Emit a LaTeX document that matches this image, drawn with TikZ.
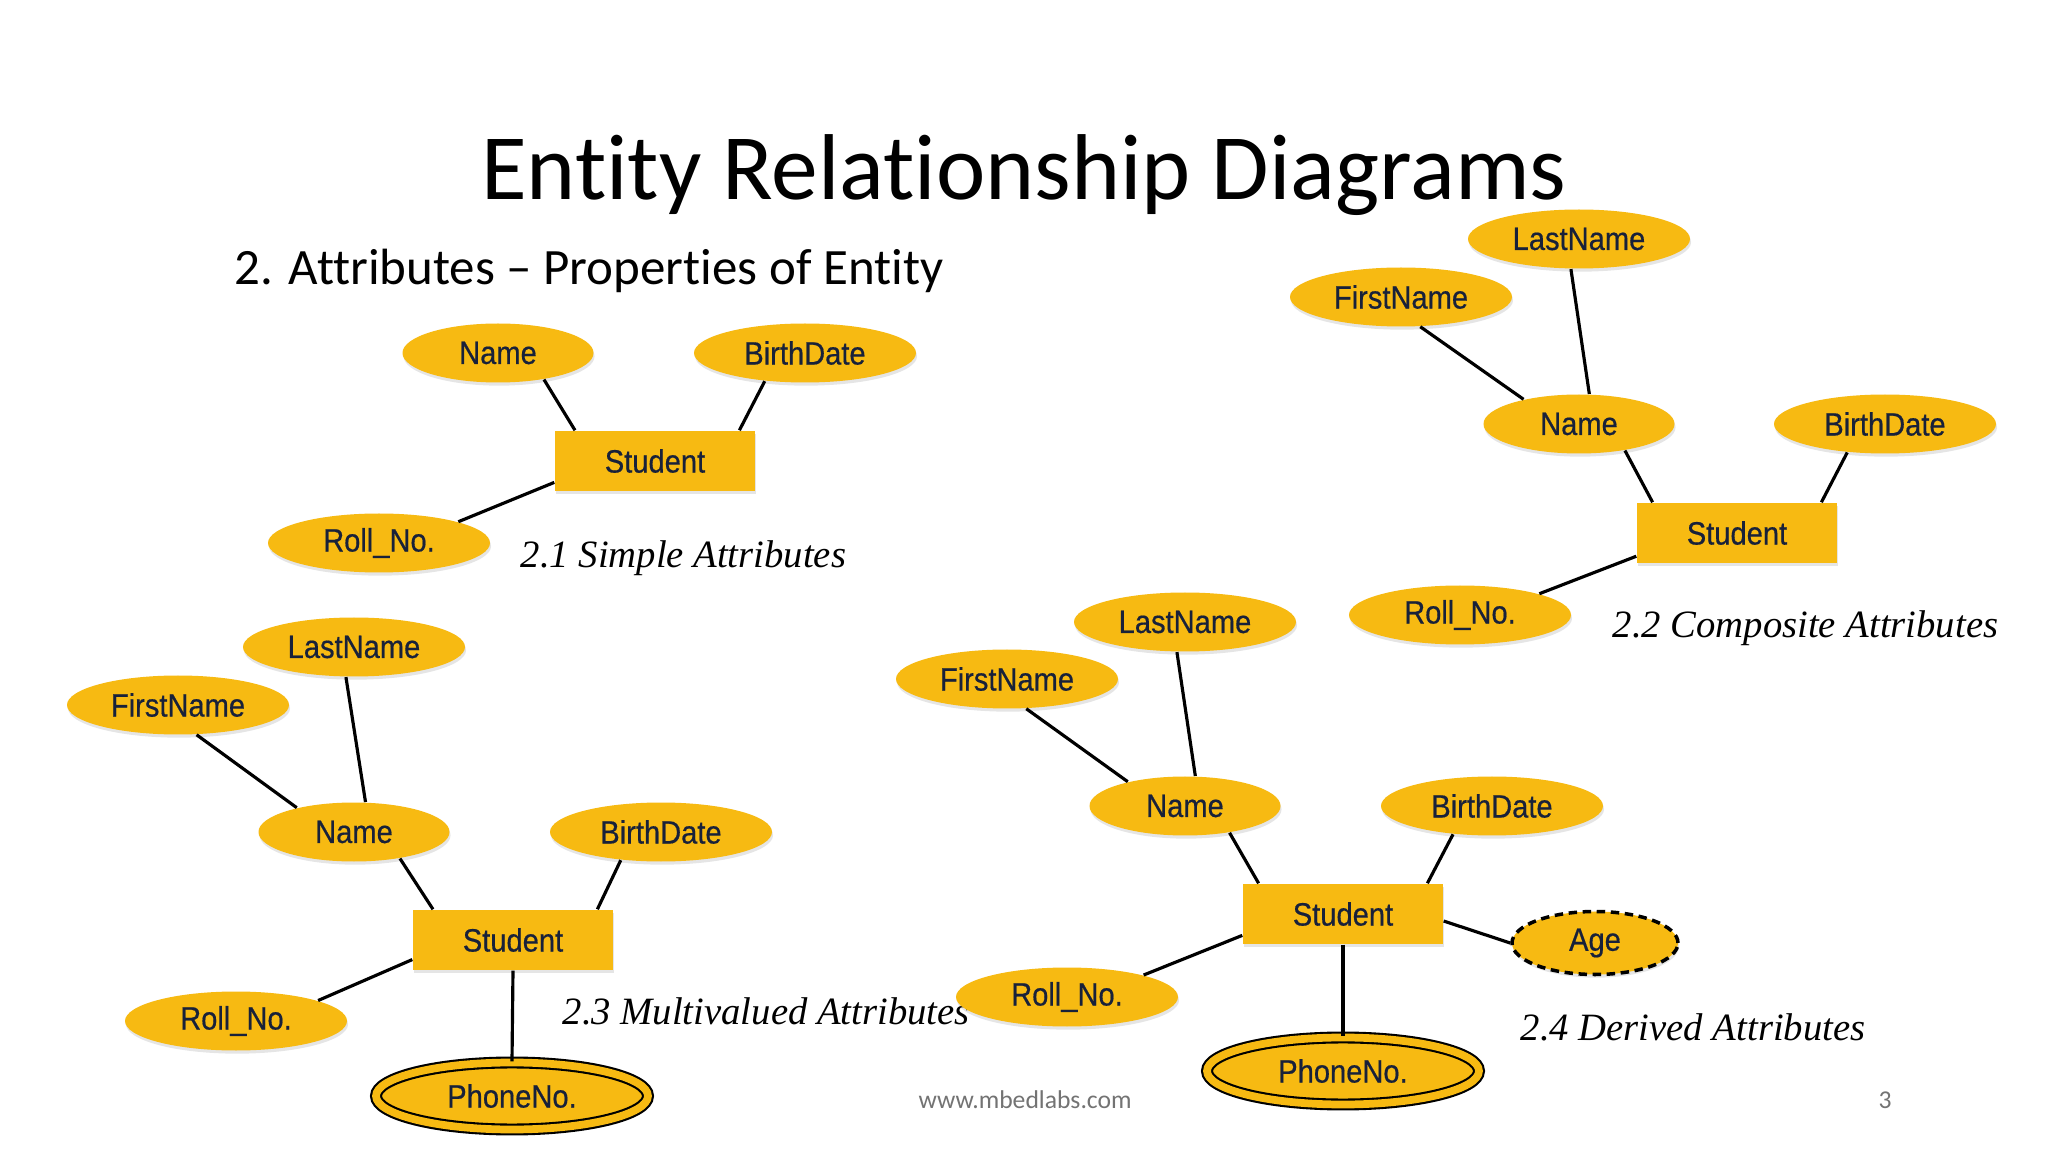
\documentclass[tikz,border=0pt]{standalone}
\usepackage{fontspec}
\setmainfont{Liberation Sans}
\newfontfamily\labelfont[FakeStretch=0.9, FakeBold=0.5]{Liberation Sans}
\newfontfamily\titlefont[Ligatures=NoCommon]{Carlito}
\newfontfamily\capfont{Liberation Serif}
\usetikzlibrary{shapes.geometric, shadows}
\definecolor{ErGold}{HTML}{F7BA12}
\definecolor{ErInk}{HTML}{18213A}

\begin{document}
\begin{tikzpicture}[
    every node/.style={font=\labelfont\fontsize{9.2}{11}\selectfont, text=ErInk},
    attr/.style={ellipse, fill=ErGold, inner sep=0pt, minimum width=2.22cm, minimum height=0.59cm, drop shadow={opacity=0.2, shadow xshift=0.3pt, shadow yshift=-0.9pt}},
    short/.style={attr, minimum width=1.91cm},
    entity/.style={rectangle, fill=ErGold, inner sep=0pt, minimum width=2cm, minimum height=0.6cm, drop shadow={opacity=0.2, shadow xshift=0.3pt, shadow yshift=-0.9pt}},
    multi/.style={attr, draw=black, line width=0.6pt, double=ErGold, double distance=2.2pt, minimum width=2.72cm, minimum height=0.67cm},
    derived/.style={attr, draw=black, line width=1pt, dash pattern=on 2.4pt off 1.6pt, minimum width=1.66cm, minimum height=0.63cm},
    link/.style={draw=black, line width=0.9pt},
    caption/.style={anchor=west, inner sep=0pt, font=\capfont\itshape\fontsize{11}{13}\selectfont, text=black}
  ]
    \useasboundingbox[fill=white] (0,0) rectangle (20.48,-11.52);

    \node[anchor=base, inner sep=0pt, text=black, font=\titlefont\fontsize{26.6}{32}\selectfont] (title) at (10.24,-2.00) {Entity Relationship Diagrams};
    \node[anchor=base west, inner sep=0pt, text=black, font=\titlefont\fontsize{14.5}{17}\selectfont] (subtitle) at (2.34,-2.85) {2. Attributes – Properties of Entity};

    \node[short] (name1) at (4.98,-3.53) {Name};
    \node[attr] (birth1) at (8.05,-3.53) {BirthDate};
    \node[entity] (stu1) at (6.55,-4.61) {Student};
    \node[attr] (roll1) at (3.79,-5.43) {Roll\_No.};
    \node[caption] (cap1) at (5.20,-5.58) {2.1 Simple Attributes};
    \draw[link] (name1.-30) -- (stu1.159);
    \draw[link] (birth1.-145) -- (stu1.20);
    \draw[link] (roll1.15) -- (stu1.-168);

    \node[attr] (last2) at (15.79,-2.39) {LastName};
    \node[attr] (first2) at (14.01,-2.97) {FirstName};
    \node[short] (name2) at (15.79,-4.24) {Name};
    \node[attr] (birth2) at (18.85,-4.24) {BirthDate};
    \node[entity] (stu2) at (17.37,-5.33) {Student};
    \node[attr] (roll2) at (14.60,-6.15) {Roll\_No.};
    \node[caption] (cap2) at (16.12,-6.28) {2.2 Composite Attributes};
    \draw[link] (last2.-105) -- (name2.71);
    \draw[link] (first2.-57) -- (name2.156);
    \draw[link] (name2.-30) -- (stu2.160);
    \draw[link] (birth2.-143) -- (stu2.20);
    \draw[link] (roll2.15) -- (stu2.-167);

    \node[attr] (last3) at (3.54,-6.47) {LastName};
    \node[attr] (first3) at (1.78,-7.05) {FirstName};
    \node[short] (name3) at (3.54,-8.32) {Name};
    \node[attr] (birth3) at (6.61,-8.32) {BirthDate};
    \node[entity] (stu3) at (5.13,-9.40) {Student};
    \node[attr] (roll3) at (2.36,-10.21) {Roll\_No.};
    \node[multi] (phone3) at (5.12,-10.96) {PhoneNo.};
    \node[caption] (cap3) at (5.62,-10.11) {2.3 Multivalued Attributes};
    \draw[link] (last3.-105) -- (name3.69);
    \draw[link] (first3.-58) -- (name3.157);
    \draw[link] (name3.-30) -- (stu3.159);
    \draw[link] (birth3.-145) -- (stu3.20);
    \draw[link] (roll3.14) -- (stu3.-169);
    \draw[link] (stu3.south) -- (phone3.north);

    \node[attr] (last4) at (11.85,-6.22) {LastName};
    \node[attr] (first4) at (10.07,-6.79) {FirstName};
    \node[short] (name4) at (11.85,-8.06) {Name};
    \node[attr] (birth4) at (14.92,-8.06) {BirthDate};
    \node[entity] (stu4) at (13.43,-9.14) {Student};
    \node[attr] (roll4) at (10.67,-9.97) {Roll\_No.};
    \node[derived] (age4) at (15.95,-9.43) {Age};
    \node[multi] (phone4) at (13.43,-10.71) {PhoneNo.};
    \node[caption] (cap4) at (15.20,-10.27) {2.4 Derived Attributes};
    \draw[link] (last4.-105) -- (name4.71);
    \draw[link] (first4.-57) -- (name4.157);
    \draw[link] (name4.-31) -- (stu4.160);
    \draw[link] (birth4.-144) -- (stu4.20);
    \draw[link] (roll4.16) -- (stu4.-168);
    \draw[link] (stu4.-4) -- (age4.west);
    \draw[link] (stu4.south) -- (phone4.north);

    \node[anchor=west, inner sep=0pt, text=black!55, font=\titlefont\fontsize{7.3}{9}\selectfont] (web) at (9.18,-11.00) {www.mbedlabs.com};
    \node[inner sep=0pt, text=black!55, font=\titlefont\fontsize{7.3}{9}\selectfont] (page) at (18.85,-11.00) {3};
  \end{tikzpicture}
\end{document}
